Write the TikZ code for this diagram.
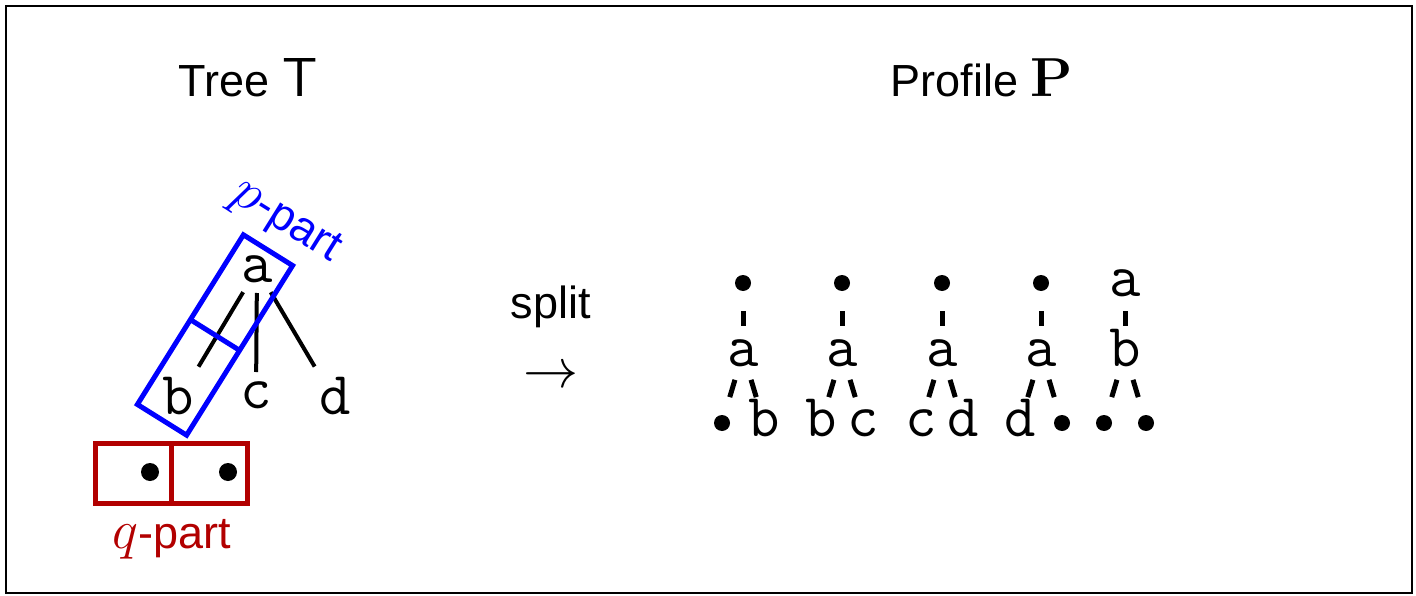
\documentclass[tikz,border=0pt]{standalone}
\usepackage{fix-cm}
\usepackage[no-math]{fontspec}
\setmainfont{Liberation Sans}
\usepackage{xcolor}
\usepackage{tikz}
\usetikzlibrary{positioning}

\definecolor{pblue}{RGB}{0,0,255}
\definecolor{qred}{RGB}{178,0,0}
\newcommand\mfont{\fontsize{55}{60}\selectfont}
\newcommand\tfont{\fontsize{61}{66}\ttfamily}

\begin{document}
\begin{tikzpicture}[x=1pt,y=-1pt,
    title/.style={font=\fontsize{45}{54}\selectfont,anchor=base,inner sep=0pt},
    lbl/.style={font=\tfont,inner sep=0pt,text height=26pt,text depth=0pt},
    leaf/.style={circle,fill=black,inner sep=0pt,minimum size=16pt},
    tedge/.style={line width=4pt,shorten <=27pt,shorten >=40pt},
    dedge/.style={line width=5pt,shorten <=28pt,shorten >=27pt},
    partbox/.style={draw,line width=5pt,inner sep=0pt,outer sep=0pt}]
    \useasboundingbox (0,0) rectangle (1416,596);
    \draw[line width=1.6pt] (6,6) rectangle (1412,593);

    % titles
    \node[title] (ttree) at (248,97) {Tree {\mfont$\mathsf{T}$}};
    \node[title] (tprof) at (982,97) {Profile {\mfont$\mathbf{P}$}};

    % the tree
    \node[lbl] (a) at (257,269) {a};
    \node[lbl] (b) at (178,401) {b};
    \node[lbl] (c) at (256,395) {c};
    \node[lbl] (d) at (335,401) {d};
    \draw[tedge] (a.center) -- (b.center);
    \draw[tedge,shorten <=24pt,shorten >=23pt] (a.center) -- (c.center);
    \draw[tedge] (a.center) -- (d.center);

    % p-part
    \node[partbox,draw=pblue,rotate=58,minimum width=200pt,minimum height=58pt] (pp) at (215,335) {};
    \draw[pblue,line width=5pt] (pp.north) -- (pp.south);
    \node[title,anchor=center,text=pblue,rotate=-32] (plabel) at (285,223) {{\mfont$p$}-part};

    % q-part
    \node[partbox,draw=qred,minimum width=76pt,minimum height=60pt] (q1) at (133,473) {};
    \node[partbox,draw=qred,minimum width=76pt,minimum height=60pt] (q2) [right=0pt of q1] {};
    \node[leaf,minimum size=18pt] (qd1) at (150,472) {};
    \node[leaf,minimum size=18pt] (qd2) at (228,472) {};
    \node[title,text=qred] (qlabel) at (172,548) {{\mfont$q$}-part};

    % split
    \node[title] (split) at (551,318) {split};
    \node[inner sep=0pt] (arrow) at (551,377) {\mfont$\rightarrow$};

    % the profile
    \foreach \x/\ts/\tc/\mc/\ls/\lc/\rs/\rc [count=\i] in
        {743/leaf//a/leaf//lbl/b, 842/leaf//a/lbl/b/lbl/c, 942/leaf//a/lbl/c/lbl/d,
         1041/leaf//a/lbl/d/leaf/, 1125/lbl/a/b/leaf//leaf/} {
      \node[\ts] (t\i) at (\x,283) {\tc};
      \node[lbl] (m\i) at (\x,353) {\mc};
      \node[\ls] (l\i) at (\x-21,423) {\lc};
      \node[\rs] (r\i) at (\x+21,423) {\rc};
      \draw[dedge] (t\i.center) -- (m\i.center);
      \draw[dedge] (m\i.center) -- (l\i.center);
      \draw[dedge] (m\i.center) -- (r\i.center);
    }
\end{tikzpicture}
\end{document}
